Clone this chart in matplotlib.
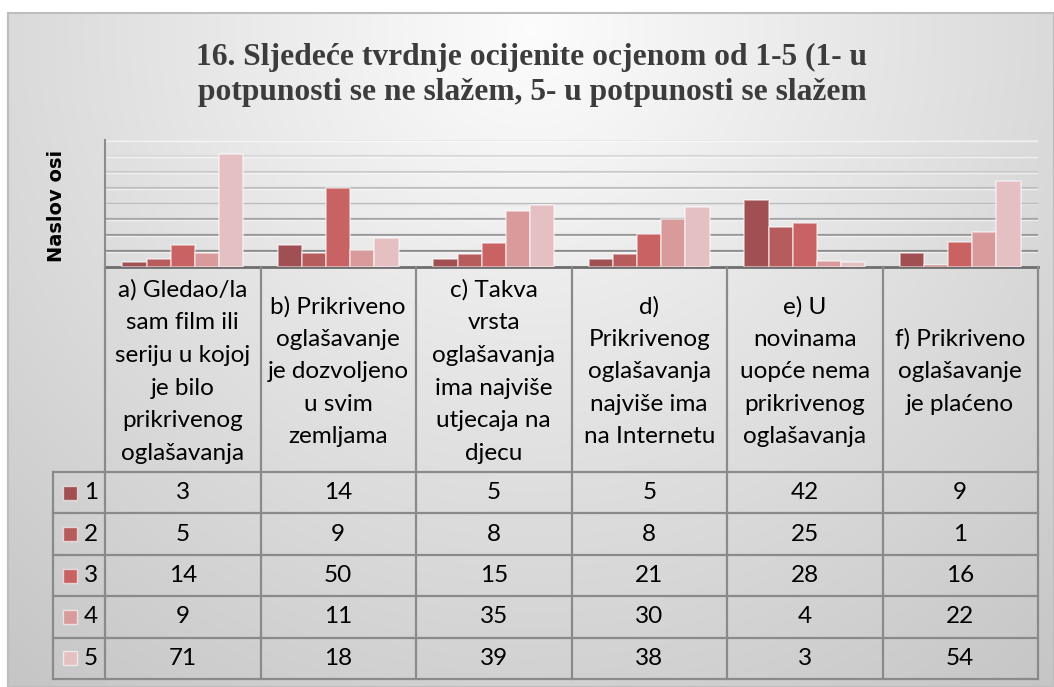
import numpy as np
import matplotlib.pyplot as plt
from matplotlib.patches import Rectangle

# Categories (statements) and the counts for grades 1-5
categories = [
    'a) Gledao/la\nsam film ili\nseriju u kojoj\nje bilo\nprikrivenog\noglašavanja',
    'b) Prikriveno\noglašavanje\nje dozvoljeno\nu svim\nzemljama',
    'c) Takva\nvrsta\noglašavanja\nima najviše\nutjecaja na\ndjecu',
    'd)\nPrikrivenog\noglašavanja\nnajviše ima\nna Internetu',
    'e) U\nnovinama\nuopće nema\nprikrivenog\noglašavanja',
    'f) Prikriveno\noglašavanje\nje plaćeno',
]
grades = ['1', '2', '3', '4', '5']
grade_1 = [3, 14, 5, 5, 42, 9]
grade_2 = [5, 9, 8, 8, 25, 1]
grade_3 = [14, 50, 15, 21, 28, 16]
grade_4 = [9, 11, 35, 30, 4, 22]
grade_5 = [71, 18, 39, 38, 3, 54]
series = [grade_1, grade_2, grade_3, grade_4, grade_5]
colors = ['#a05052', '#b75c5c', '#c96262', '#d89a9b', '#e4c0c3']

title = ('16. Sljedeće tvrdnje ocijenite ocjenom od 1-5 (1- u\n'
         'potpunosti se ne slažem, 5- u potpunosti se slažem')

W, H = 1054, 687
fig = plt.figure(figsize=(W / 100, H / 100), dpi=100)

# Background gradient of the chart area
bg = fig.add_axes([0, 0, 1, 1], zorder=-10)
yy, xx = np.mgrid[0:H, 0:W]
d = np.clip(np.hypot(xx - 530, yy - 30) / 850, 0, 1)
shade = 0.99 - 0.22 * d
img = np.dstack([shade] * 3)
img[:13, :, :] = 1
img[:, :8, :] = 1
bg.imshow(img, extent=(0, W, H, 0), aspect='auto', interpolation='bilinear')
bg.set_xlim(0, W)
bg.set_ylim(H, 0)
bg.axis('off')
bg.add_patch(Rectangle((8, 13), W - 8, H - 13, fill=False, ec='#bdbdbd', lw=1.5))

# Plot area (pixel layout)
px_left, px_right, px_top, px_base = 105, 1038, 140, 267
ax = fig.add_axes([px_left / W, 1 - px_base / H,
                   (px_right - px_left) / W, (px_base - px_top) / H])
ax.patch.set_alpha(0)

x = np.arange(len(categories))
bw = 0.155
for i, (vals, c) in enumerate(zip(series, colors)):
    ax.bar(x + (i - 2) * bw, vals, bw, color=c,
           edgecolor=(1, 1, 1, 0.55), linewidth=1.2, zorder=3)

ax.set_xlim(-0.5, len(categories) - 0.5)
ax.set_ylim(0, 80)
ax.set_xticks([])
ax.set_yticks([])
for k, v in enumerate(range(10, 81, 10)):
    g = 0.55 + 0.05 * k
    ax.axhline(v, color=(g, g, g), lw=1.6, zorder=1)
    ax.axhline(v - 0.6, color='white', lw=1.0, alpha=0.6, zorder=1)
ax.spines['top'].set_visible(False)
ax.spines['right'].set_visible(False)
ax.spines['left'].set_color('#8c8c8c')
ax.spines['left'].set_linewidth(1.5)
ax.spines['bottom'].set_color('#6e6e6e')
ax.spines['bottom'].set_linewidth(2)

# Data table under the chart
tb = fig.add_axes([0, 0, 1, 1], zorder=5)
tb.set_xlim(0, W)
tb.set_ylim(H, 0)
tb.axis('off')

col_w = (px_right - px_left) / len(categories)
header_bottom = 472
row_h = 41.4
leg_left = 53
table_bottom = header_bottom + row_h * len(grades)
line_c = '#8a8a8a'
font = 'Lato'
fs = 17.5

for k in range(len(categories) + 1):
    xc = px_left + k * col_w
    tb.plot([xc, xc], [px_base, table_bottom], color=line_c, lw=1.6)
tb.plot([leg_left, leg_left], [header_bottom, table_bottom], color=line_c, lw=1.6)
for r in range(len(grades) + 1):
    yr = header_bottom + r * row_h
    tb.plot([leg_left, px_right], [yr, yr], color=line_c, lw=1.6)

for j, lab in enumerate(categories):
    tb.text(px_left + (j + 0.5) * col_w, (px_base + header_bottom) / 2 + 2, lab,
            ha='center', va='center', fontsize=fs, family=font,
            linespacing=1.68, color='black')

for r, (g, vals, c) in enumerate(zip(grades, series, colors)):
    yc = header_bottom + (r + 0.5) * row_h
    tb.add_patch(Rectangle((63, yc - 7), 14, 14, fc=c, ec=(1, 1, 1, 0.6), lw=1))
    tb.text(84, yc, g, ha='left', va='center', fontsize=fs, family=font)
    for j, v in enumerate(vals):
        tb.text(px_left + (j + 0.5) * col_w, yc, str(v),
                ha='center', va='center', fontsize=fs, family=font)

fig.text(57 / W, 1 - 206 / H, 'Naslov osi', rotation=90, ha='center', va='center',
         fontsize=14, family='DejaVu Sans', fontweight='bold')
fig.text(532 / W, 1 - 75 / H, title, ha='center', va='center',
         fontsize=22.7, family='Liberation Serif', fontweight='bold',
         color='#3c3c3c', linespacing=1.25)

fig.savefig('out.png', dpi=100)
